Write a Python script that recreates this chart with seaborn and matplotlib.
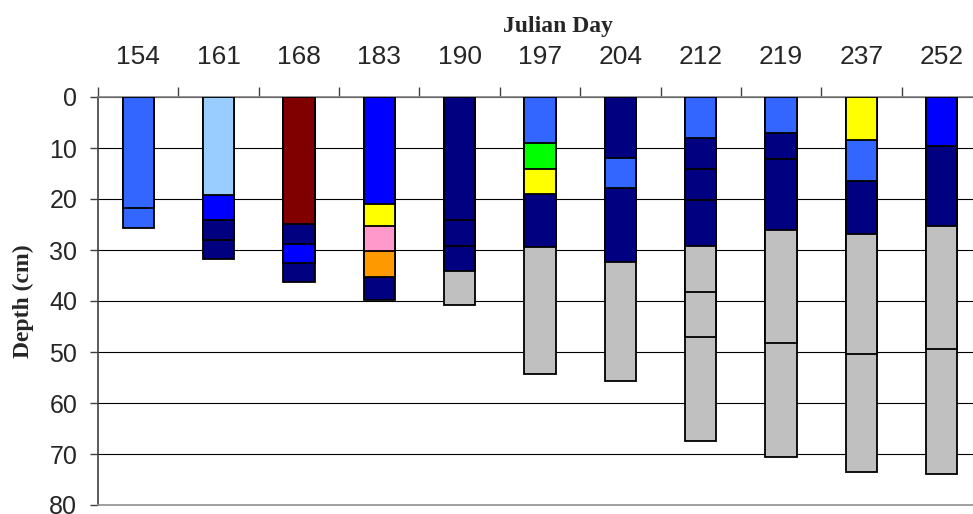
import pandas as pd
import matplotlib
matplotlib.use("Agg")
import matplotlib.pyplot as plt
import seaborn as sns

# ---------- data ----------
days = ["154", "161", "168", "183", "190", "197", "204", "212", "219", "237", "252"]

# one entry per horizon: sampling day, depth of its lower boundary (cm), colour
seg_day = (["154"] * 2 + ["161"] * 4 + ["168"] * 4 + ["183"] * 5 + ["190"] * 4
           + ["197"] * 5 + ["204"] * 4 + ["212"] * 7 + ["219"] * 5
           + ["237"] * 5 + ["252"] * 4)
seg_bottom = [21.8, 25.6,
              19.2, 24.1, 28.0, 31.8,
              24.9, 28.8, 32.5, 36.2,
              21.0, 25.3, 30.2, 35.2, 39.8,
              24.1, 29.2, 34.1, 40.8,
              9.1, 14.1, 19.1, 29.5, 54.4,
              11.9, 17.9, 32.3, 55.6,
              8.0, 14.1, 20.2, 29.2, 38.3, 47.1, 67.5,
              7.1, 12.2, 26.1, 48.3, 70.5,
              8.4, 16.4, 26.9, 50.3, 73.6,
              9.6, 25.3, 49.4, 74.0]
seg_color = ["#3366FF", "#3366FF",
             "#99CCFF", "#0000FF", "#000080", "#000080",
             "#800000", "#000080", "#0000FF", "#000080",
             "#0000FF", "#FFFF00", "#FF99CC", "#FF9900", "#000080",
             "#000080", "#000080", "#000080", "#C0C0C0",
             "#3366FF", "#00FF00", "#FFFF00", "#000080", "#C0C0C0",
             "#000080", "#3366FF", "#000080", "#C0C0C0",
             "#3366FF", "#000080", "#000080", "#000080", "#C0C0C0", "#C0C0C0", "#C0C0C0",
             "#3366FF", "#000080", "#000080", "#C0C0C0", "#C0C0C0",
             "#FFFF00", "#3366FF", "#000080", "#C0C0C0", "#C0C0C0",
             "#0000FF", "#000080", "#C0C0C0", "#C0C0C0"]

df = pd.DataFrame({"day": seg_day, "bottom": seg_bottom, "color": seg_color})
# layer 0 = deepest horizon of each profile; paint deepest first, shallower on top
df["layer"] = df.groupby("day").cumcount(ascending=False)

sns.set_style("white")
plt.rcParams["font.family"] = ["Liberation Sans", "DejaVu Sans"]

fig = plt.figure(figsize=(9.73, 5.14), dpi=100)
ax = fig.add_axes([98 / 973, 9 / 514, 884 / 973, 408 / 514])

for layer in sorted(df["layer"].unique()):
    sub = df[df["layer"] == layer]
    sns.barplot(data=sub, x="day", y="bottom", hue="color", order=days,
                palette={c: c for c in sub["color"].unique()}, dodge=False,
                saturation=1, width=0.39, edgecolor="black", linewidth=1.3,
                legend=False, ax=ax, zorder=3)

ax.set_ylim(80, 0)
ax.set_xlim(-0.5, len(days) - 0.5)
ax.set_yticks(range(0, 81, 10))
ax.yaxis.grid(True, color="black", linewidth=0.8, zorder=0)
ax.set_axisbelow(True)

# x axis on top: labels at bar centres, tick marks at category boundaries
ax.xaxis.tick_top()
ax.xaxis.set_label_position("top")
ax.set_xticks(range(len(days)))
ax.set_xticklabels(days)
ax.set_xticks([i - 0.5 for i in range(len(days) + 1)], minor=True)
ax.tick_params(axis="x", which="major", length=0, pad=20, labelsize=19)
ax.tick_params(axis="x", which="minor", length=7, width=1, color="#404040",
               direction="out", top=True, bottom=False)
ax.tick_params(axis="y", length=6, width=1, color="#404040", pad=9, labelsize=18,
               left=True)

ax.spines["right"].set_visible(False)
ax.spines["bottom"].set_color("#909090")
ax.spines["bottom"].set_linewidth(1.2)
ax.spines["left"].set_color("#404040")
ax.spines["left"].set_linewidth(1.2)
ax.spines["top"].set_color("#808080")
ax.spines["top"].set_linewidth(1.2)

ax.set_xlabel("Julian Day", fontsize=17, fontweight="bold", family="Liberation Serif")
ax.xaxis.set_label_coords(0.52, 1.16)
ax.set_ylabel("Depth (cm)", fontsize=17, fontweight="bold", family="Liberation Serif")
ax.yaxis.set_label_coords(-0.072, 0.5)

fig.savefig("out.png", dpi=100)
